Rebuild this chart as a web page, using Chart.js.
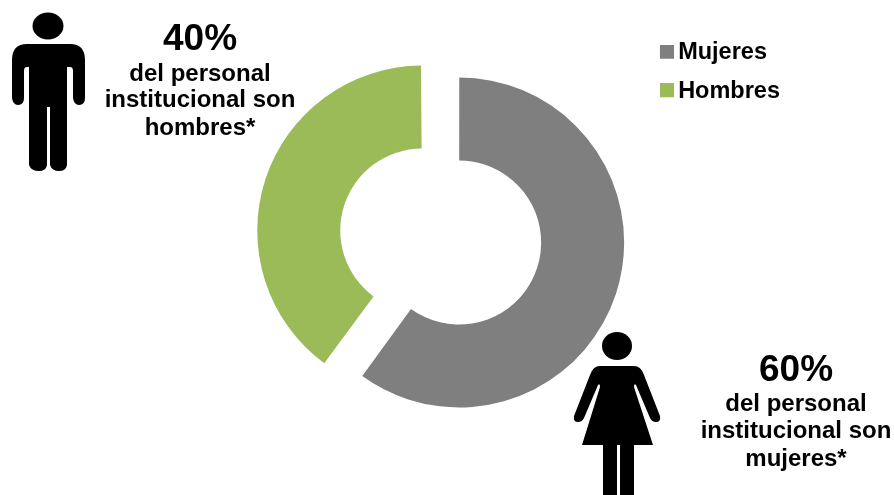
<!DOCTYPE html>
<html><head><meta charset="utf-8">
<style>
html,body{margin:0;padding:0;background:#fff;width:894px;height:495px;overflow:hidden}
#wrap{position:relative;width:894px;height:495px}
canvas{position:absolute;left:0;top:0}
svg{position:absolute;left:0;top:0;pointer-events:none}
</style>
<script src="https://cdn.jsdelivr.net/npm/chart.js@4"></script>
</head><body>
<div id="wrap">
<canvas id="c" width="894" height="495"></canvas>
<svg width="894" height="495" viewBox="0 0 894 495">
  <g fill="#000">
    <ellipse cx="48" cy="26" rx="15.5" ry="13.5"/>
    <path d="M27 44H70Q85 44 85 60V98Q85 105 79 105Q74 105 73 98V71Q73 67 70 67H67V165Q66 171 59 171Q52 171 50 165V107H47V165Q46 171 39 171Q31 171 29 165V67H27Q24 67 24 71V98Q24 105 18 105Q13 105 12 98V60Q12 44 27 44Z"/>
    <ellipse cx="617" cy="346" rx="15" ry="14"/>
    <path d="M600 366H634Q641 366 644 375L660 416Q661 422 656 422Q652 422 650 418L636 385Q634 383 634 387L653 445H582L600 387Q600 383 598 385L584 418Q582 422 578 422Q573 422 574 416L590 375Q593 366 600 366Z"/>
    <rect x="603" y="445" width="14" height="50"/>
    <rect x="620" y="445" width="14" height="50"/>
  </g>
</svg>
</div>
<script>
const categories = ['Mujeres', 'Hombres'];
const values = [60, 40];
const colors = ['#7f7f7f', '#9bbb59'];
const noteMen = ['40%', 'del personal', 'institucional son', 'hombres*'];
const noteWomen = ['60%', 'del personal', 'institucional son', 'mujeres*'];

function swatch(color) {
  const s = document.createElement('canvas');
  s.width = 16; s.height = 16;
  const x = s.getContext('2d');
  x.fillStyle = color; x.fillRect(2, 0, 14, 14);
  return s;
}
const notesPlugin = {
  id: 'notes',
  afterDatasetsUpdate(chart) {
    const arcs = chart.getDatasetMeta(0).data;
    // Chart.js grows an offset arc by a share that depends on its sweep; even out the smaller one
    arcs[1].outerRadius += 11.4;
    arcs[1].innerRadius += 11.4;
    // the large offset arc is drawn about one degree short at each end
    arcs[0].startAngle -= 0.018;
    arcs[0].endAngle += 0.018;
  },
  afterDraw(chart) {
    const ctx = chart.ctx;
    const put = (lines, cx, ys) => {
      ctx.save();
      ctx.textAlign = 'center';
      ctx.textBaseline = 'alphabetic';
      ctx.fillStyle = '#000';
      lines.forEach((t, i) => {
        ctx.font = 'bold ' + (i === 0 ? '37px' : '24px') + ' "Liberation Sans", Arial, sans-serif';
        ctx.fillText(t, cx, ys[i]);
      });
      ctx.restore();
    };
    put(noteMen, 200, [50, 81, 107, 135]);
    put(noteWomen, 796, [381, 411, 438, 466]);
  }
};
new Chart(document.getElementById('c'), {
  type: 'doughnut',
  data: { labels: categories, datasets: [{
    data: values,
    backgroundColor: colors,
    borderWidth: 0,
    offset: 77.6
  }]},
  options: {
    responsive: false,
    animation: false,
    radius: 145.6,
    cutout: '43%',
    layout: { padding: { left: 231, right: 104, top: 26, bottom: 48 } },
    plugins: {
      tooltip: { enabled: false },
      legend: {
        position: 'right',
        align: 'start',
        labels: {
          usePointStyle: true,
          boxWidth: 1,
          padding: 15,
          color: '#000',
          font: { family: '"Liberation Sans", Arial, sans-serif', size: 23.5, weight: 'bold' },
          generateLabels(chart) {
            return Chart.overrides.doughnut.plugins.legend.labels.generateLabels(chart)
              .map((it, i) => Object.assign(it, { pointStyle: swatch(colors[i]) }));
          }
        }
      }
    }
  },
  plugins: [notesPlugin]
});
</script>
</body></html>
